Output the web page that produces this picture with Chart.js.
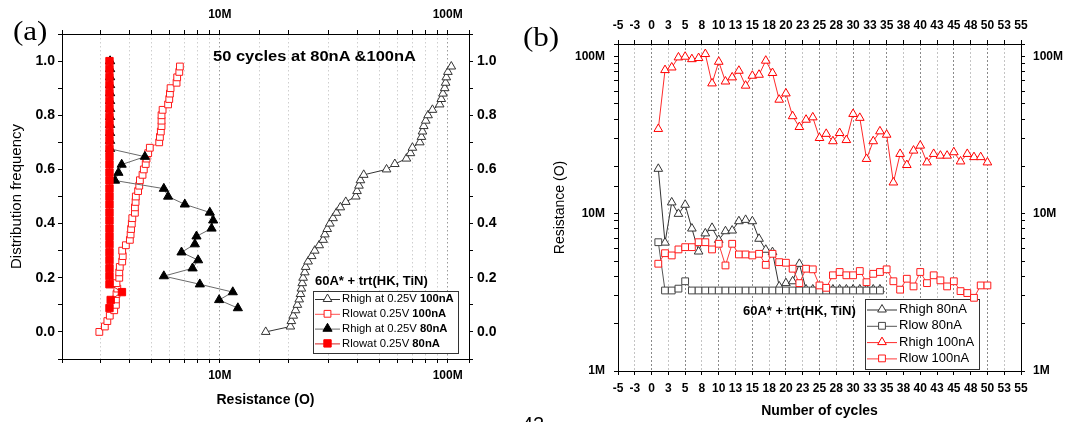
<!DOCTYPE html>
<html>
<head>
<meta charset="utf-8">
<script src="https://cdn.jsdelivr.net/npm/chart.js@4.4.1/dist/chart.umd.min.js"></script>
<style>
  html, body { margin: 0; padding: 0; background: #fff; width: 1069px; height: 422px; overflow: hidden; }
  #wrap { position: relative; width: 1069px; height: 422px; }
  canvas { position: absolute; top: 0; }
  #chartA { left: 0; }
  #chartB { left: 510px; }
  .t { position: absolute; white-space: nowrap; color: #000; font-family: "Liberation Sans", Arial, sans-serif; transform-origin: 0 50%; z-index: 2; }
</style>
</head>
<body>
<div id="wrap">
  <canvas id="chartA" width="520" height="422"></canvas>
  <canvas id="chartB" width="559" height="422"></canvas>
  <div class="t" style="left:13px;top:18px;font:27px/27px 'Liberation Serif','Times New Roman',serif;transform:scaleX(1.15);">(a)</div>
  <div class="t" style="left:523px;top:24px;font:27px/27px 'Liberation Serif','Times New Roman',serif;transform:scaleX(1.15);">(b)</div>
  <div class="t" style="left:213px;top:48px;font:bold 15px/15px 'Liberation Sans',Arial,sans-serif;transform:scaleX(1.1);">50 cycles at 80nA &amp;100nA</div>
  <div class="t" style="left:315px;top:274px;font:bold 13px/13px 'Liberation Sans',Arial,sans-serif;">60A* + trt(HK, TiN)</div>
  <div class="t" style="left:743px;top:304px;font:bold 13px/13px 'Liberation Sans',Arial,sans-serif;">60A* + trt(HK, TiN)</div>
  <div class="t" style="left:522px;top:414px;font:20px/20px 'Liberation Sans',Arial,sans-serif;">42</div>
</div>
<script>
// ---------- (a) cumulative distribution of resistance (values in MΩ) ----------
const freq100 = [0, 0.02, 0.04, 0.06, 0.08, 0.1, 0.12, 0.14, 0.16, 0.18,
  0.2, 0.22, 0.24, 0.26, 0.28, 0.3, 0.32, 0.34, 0.36, 0.38,
  0.4, 0.42, 0.44, 0.46, 0.48, 0.5, 0.52, 0.54, 0.56, 0.58,
  0.6, 0.62, 0.64, 0.66, 0.68, 0.7, 0.72, 0.74, 0.76, 0.78,
  0.8, 0.82, 0.84, 0.86, 0.88, 0.9, 0.92, 0.94, 0.96, 0.98];
const rHigh100Dist = [15.9, 20.4, 20.6, 21.0, 21.5, 21.9, 22.3, 22.6, 22.8, 23.0,
  23.2, 23.6, 23.8, 24.4, 25.3, 26.1, 27.3, 28.4, 28.9, 29.6,
  30.4, 31.4, 32.5, 33.8, 35.7, 39.5, 40.0, 40.8, 41.4, 42.8,
  53.9, 58.6, 65.9, 68.6, 70.0, 75.4, 76.7, 77.5, 78.5, 80.1,
  82.0, 85.7, 92.2, 93.7, 95.3, 97.0, 97.9, 98.6, 100.2, 103.7];
const rLow100Dist = [2.96, 3.13, 3.21, 3.29, 3.44, 3.50, 3.50, 3.52, 3.55, 3.52,
  3.62, 3.62, 3.64, 3.73, 3.75, 3.73, 3.87, 4.03, 4.06, 4.08,
  4.11, 4.13, 4.24, 4.24, 4.27, 4.28, 4.38, 4.43, 4.46, 4.58,
  4.64, 4.73, 4.77, 4.85, 4.93, 5.42, 5.46, 5.51, 5.55, 5.55,
  5.55, 5.61, 5.93, 6.00, 6.04, 6.08, 6.46, 6.50, 6.64, 6.68];
const freq80 = [0.088, 0.118, 0.147, 0.176, 0.206, 0.235, 0.265, 0.294, 0.324, 0.353,
  0.382, 0.412, 0.441, 0.471, 0.500, 0.529, 0.559, 0.588, 0.618, 0.647,
  0.676, 0.706, 0.735, 0.765, 0.794, 0.824, 0.853, 0.882, 0.912, 0.941,
  0.971, 1.000];
const rHigh80Dist = [12.0, 9.93, 11.4, 8.17, 5.68, 7.59, 8.03, 6.79, 7.77, 7.90,
  9.20, 9.35, 9.04, 7.02, 5.93, 5.68, 3.47, 3.59, 3.71, 4.69,
  3.30, 3.30, 3.30, 3.30, 3.30, 3.30, 3.30, 3.30, 3.30, 3.30,
  3.30, 3.30];
const rLow80Dist = [3.28, 3.32, 3.72, 3.28, 3.28, 3.28, 3.28, 3.28, 3.28, 3.28,
  3.28, 3.28, 3.28, 3.28, 3.28, 3.28, 3.28, 3.28, 3.28, 3.28,
  3.28, 3.28, 3.28, 3.28, 3.28, 3.28, 3.28, 3.28, 3.28, 3.28,
  3.28, 3.28];

// ---------- (b) resistance versus cycle number (values in MΩ) ----------
const cycles100 = [1, 2, 3, 4, 5, 6, 7, 8, 9, 10, 11, 12, 13, 14, 15, 16, 17, 18, 19, 20,
  21, 22, 23, 24, 25, 26, 27, 28, 29, 30, 31, 32, 33, 34, 35, 36, 37, 38, 39, 40,
  41, 42, 43, 44, 45, 46, 47, 48, 49, 50];
const cycles80 = [1, 2, 3, 4, 5, 6, 7, 8, 9, 10, 11, 12, 13, 14, 15, 16, 17, 18, 19, 20,
  21, 22, 23, 24, 25, 26, 27, 28, 29, 30, 31, 32, 33, 34];
const rHigh100Cyc = [34.6, 81.9, 85.1, 98.6, 99.6, 96.1, 97.7, 103.6, 67.4, 92.5,
  69.3, 73.6, 81.1, 65.2, 75.4, 76.5, 94.0, 78.5, 53.1, 58.2,
  41.7, 35.6, 39.6, 41.0, 30.3, 32.2, 28.9, 32.6, 29.4, 43.1,
  40.7, 22.3, 28.9, 33.4, 31.8, 15.8, 24.0, 20.4, 25.2, 27.1,
  21.2, 24.0, 23.4, 23.4, 24.6, 21.5, 24.0, 22.9, 22.9, 21.2];
const rLow100Cyc = [4.81, 5.61, 5.43, 5.93, 6.13, 6.13, 6.59, 6.59, 5.93, 6.44,
  4.69, 6.44, 5.51, 5.51, 5.43, 5.56, 4.73, 5.56, 4.92, 4.88,
  4.47, 3.62, 4.47, 4.43, 3.50, 3.38, 4.06, 4.26, 4.06, 4.06,
  4.32, 3.67, 4.15, 4.26, 4.43, 3.72, 3.29, 3.86, 3.45, 4.26,
  3.62, 4.06, 3.77, 3.45, 3.72, 3.22, 3.13, 2.92, 3.50, 3.50];
const rHigh80Cyc = [19.3, 6.55, 11.8, 9.98, 11.4, 8.05, 5.75, 7.50, 8.13, 6.82,
  7.74, 7.82, 8.96, 9.14, 8.96, 6.93, 5.90, 5.70, 3.45, 3.62,
  3.72, 4.80, 3.30, 3.30, 3.30, 3.30, 3.30, 3.30, 3.30, 3.30,
  3.30, 3.30, 3.30, 3.30];
const rLow80Cyc = [6.59, 3.25, 3.25, 3.34, 3.72, 3.25, 3.25, 3.25, 3.25, 3.25,
  3.25, 3.25, 3.25, 3.25, 3.25, 3.25, 3.25, 3.25, 3.25, 3.25,
  3.25, 3.25, 3.25, 3.25, 3.25, 3.25, 3.25, 3.25, 3.25, 3.25,
  3.25, 3.25, 3.25, 3.25];

// axis tick labels
const resistanceTickLabels = { 1e6: '1M', 1e7: '10M', 1e8: '100M' };
const freqTickLabels = ['0.0', '0.2', '0.4', '0.6', '0.8', '1.0'];

// legend entries (text split into regular / bold runs)
const legendA = [
  [['Rhigh at 0.25V ', false], ['100nA', true]],
  [['Rlowat 0.25V ', false], ['100nA', true]],
  [['Rhigh at 0.25V ', false], ['80nA', true]],
  [['Rlowat 0.25V ', false], ['80nA', true]]
];
const legendB = ['Rhigh 80nA', 'Rlow 80nA', 'Rhigh 100nA', 'Rlow 100nA'];

// ---------------------------------------------------------------------------
const MEGA = 1e6;
const FONT = "'Liberation Sans', Arial, sans-serif";
const toPoints = (xs, ys, xScale, yScale) => xs.map((x, i) => ({ x: x * xScale, y: ys[i] * yScale }));

function logTick(v) {
  for (const k in resistanceTickLabels) {
    if (Math.abs(v - Number(k)) < 1) return resistanceTickLabels[k];
  }
  return '';
}
function freqTick(v) {
  const k = Math.round(v * 10);
  return (k >= 0 && k <= 10 && k % 2 === 0) ? freqTickLabels[k / 2] : '';
}
function cycleTick(v) {
  const s = v < 0 ? -1 : 1;
  return String(s * Math.round(Math.abs(v)));
}
function isDecade(v) {
  const l = Math.log10(v);
  return Math.abs(l - Math.round(l)) < 1e-6;
}

function drawMark(ctx, style, x, y, r, fill, stroke) {
  ctx.beginPath();
  if (style === 'triangle') {
    const s = r * Math.sin(Math.PI / 3);
    ctx.moveTo(x, y - r);
    ctx.lineTo(x + s, y + r / 2);
    ctx.lineTo(x - s, y + r / 2);
    ctx.closePath();
  } else {
    const h = r * Math.SQRT1_2;
    ctx.rect(x - h, y - h, 2 * h, 2 * h);
  }
  ctx.fillStyle = fill;
  ctx.fill();
  ctx.lineWidth = 1;
  ctx.strokeStyle = stroke;
  ctx.stroke();
}

// framed legend drawn inside the plot area, using each dataset's own style
const boxLegend = {
  id: 'boxLegend',
  beforeDatasetsDraw(chart, args, o) {
    if (!o || !o.rows) return;
    const ctx = chart.ctx;
    ctx.save();
    ctx.fillStyle = '#fff';
    ctx.fillRect(o.x, o.y, o.w, o.h);
    ctx.strokeStyle = '#333';
    ctx.lineWidth = 1;
    ctx.strokeRect(o.x + 0.5, o.y + 0.5, o.w, o.h);
    o.rows.forEach((row, i) => {
      const ds = chart.data.datasets[o.order[i]];
      const y = o.y0 + i * o.dy;
      ctx.beginPath();
      ctx.strokeStyle = ds.borderColor;
      ctx.lineWidth = 1;
      ctx.moveTo(o.lx0, y + 0.5);
      ctx.lineTo(o.lx1, y + 0.5);
      ctx.stroke();
      drawMark(ctx, ds.pointStyle, (o.lx0 + o.lx1) / 2, y, ds.pointRadius, ds.pointBackgroundColor, ds.pointBorderColor);
      let x = o.tx;
      ctx.fillStyle = '#000';
      ctx.textBaseline = 'middle';
      ctx.textAlign = 'left';
      row.forEach(([text, bold]) => {
        ctx.font = (bold ? 'bold ' : '') + o.size + 'px ' + FONT;
        ctx.fillText(text, x, y);
        x += ctx.measureText(text).width;
      });
    });
    ctx.restore();
  }
};

const fixW = w => s => { s.width = w; };
const fixH = h => s => { s.height = h; };

const tickFont = (size) => ({ family: FONT, size: size, weight: 'bold' });

// ---------------------- chart (a) ----------------------
const gridA = {
  display: true, drawOnChartArea: true, drawTicks: true, tickLength: 4,
  tickColor: '#000', lineWidth: 1,
  color: c => (c.tick && isDecade(c.tick.value)) ? '#9a9a9a' : '#cfcfcf',
  borderDash: [1.5, 2.5]
};
const borderA = { display: true, color: '#000', width: 1, dash: [1.5, 2.5] };
const axisOnly = { display: true, drawOnChartArea: false, drawTicks: true, tickLength: 4, tickColor: '#000' };

new Chart(document.getElementById('chartA'), {
  type: 'scatter',
  data: {
    datasets: [
      {
        label: 'Rlow 80nA', order: 0,
        data: toPoints(rLow80Dist, freq80, MEGA, 1),
        showLine: true, borderColor: '#d42020', borderWidth: 1,
        pointStyle: 'rect', pointRadius: 5.2, pointBorderWidth: 1,
        pointBackgroundColor: '#ff0000', pointBorderColor: '#ff0000'
      },
      {
        label: 'Rhigh 80nA', order: 1,
        data: toPoints(rHigh80Dist, freq80, MEGA, 1),
        showLine: true, borderColor: '#6a6a6a', borderWidth: 1,
        pointStyle: 'triangle', pointRadius: 5.3, pointBorderWidth: 1,
        pointBackgroundColor: '#000', pointBorderColor: '#000'
      },
      {
        label: 'Rlow 100nA', order: 2,
        data: toPoints(rLow100Dist, freq100, MEGA, 1),
        showLine: true, borderColor: '#ff5050', borderWidth: 1,
        pointStyle: 'rect', pointRadius: 4.8, pointBorderWidth: 1,
        pointBackgroundColor: '#fff', pointBorderColor: '#ff1a1a'
      },
      {
        label: 'Rhigh 100nA', order: 3,
        data: toPoints(rHigh100Dist, freq100, MEGA, 1),
        showLine: true, borderColor: '#333', borderWidth: 1,
        pointStyle: 'triangle', pointRadius: 5, pointBorderWidth: 1,
        pointBackgroundColor: '#fff', pointBorderColor: '#333'
      }
    ]
  },
  options: {
    responsive: false, animation: false, devicePixelRatio: 1, events: [],
    layout: { padding: 0 },
    plugins: {
      legend: { display: false }, tooltip: { enabled: false },
      boxLegend: {
        x: 313, y: 291, w: 145, h: 62, y0: 299, dy: 14.8,
        lx0: 315, lx1: 340, tx: 342, size: 11.3,
        rows: legendA, order: [3, 2, 1, 0]
      }
    },
    scales: {
      x: {
        type: 'logarithmic', position: 'bottom', min: 2.03e6, max: 1.24e8,
        afterFit: fixH(63),
        grid: gridA, border: borderA,
        ticks: { autoSkip: false, maxRotation: 0, padding: 5, color: '#000', font: tickFont(12), callback: logTick },
        title: { display: true, text: 'Resistance (O)', color: '#000',
          font: { family: FONT, size: 14, weight: 'bold' }, padding: { top: 0, bottom: 13.6 } }
      },
      x2: {
        type: 'logarithmic', position: 'top', min: 2.03e6, max: 1.24e8,
        afterFit: fixH(34),
        grid: axisOnly, border: { display: true, color: '#000', width: 1 },
        ticks: { autoSkip: false, maxRotation: 0, padding: 8, color: '#000', font: tickFont(12), callback: logTick }
      },
      y: {
        type: 'linear', position: 'left', min: -0.1, max: 1.1,
        afterFit: fixW(62),
        grid: axisOnly, border: { display: true, color: '#000', width: 1 },
        ticks: { stepSize: 0.1, autoSkip: false, padding: 3, color: '#000', font: tickFont(14), callback: freqTick },
        title: { display: true, text: 'Distribution frequency', color: '#000',
          font: { family: FONT, size: 15, weight: 'normal' }, padding: { top: 8, bottom: 0 } }
      },
      y2: {
        type: 'linear', position: 'right', min: -0.1, max: 1.1,
        afterFit: fixW(51),
        grid: axisOnly, border: { display: true, color: '#000', width: 1 },
        ticks: { stepSize: 0.1, autoSkip: false, padding: 4, color: '#000', font: tickFont(14), callback: freqTick }
      }
    }
  },
  plugins: [boxLegend]
});

// ---------------------- chart (b) ----------------------
const gridB = {
  display: true, drawOnChartArea: true, drawTicks: true, tickLength: 4,
  tickColor: '#000', lineWidth: 1,
  color: c => (c.tick && Math.abs(c.tick.value / 5 - Math.round(c.tick.value / 5)) < 1e-6) ? '#8a8a8a' : '#c4c4c4',
  borderDash: [2, 2]
};
const borderB = { display: true, color: '#000', width: 1, dash: [2, 2] };

new Chart(document.getElementById('chartB'), {
  type: 'scatter',
  data: {
    datasets: [
      {
        label: 'Rhigh 80nA', order: 3,
        data: toPoints(cycles80, rHigh80Cyc, 1, MEGA),
        showLine: true, borderColor: '#333', borderWidth: 1,
        pointStyle: 'triangle', pointRadius: 5, pointBorderWidth: 1,
        pointBackgroundColor: '#fff', pointBorderColor: '#333'
      },
      {
        label: 'Rlow 80nA', order: 2,
        data: toPoints(cycles80, rLow80Cyc, 1, MEGA),
        showLine: true, borderColor: '#555', borderWidth: 1,
        pointStyle: 'rect', pointRadius: 4.8, pointBorderWidth: 1,
        pointBackgroundColor: '#fff', pointBorderColor: '#444'
      },
      {
        label: 'Rhigh 100nA', order: 1,
        data: toPoints(cycles100, rHigh100Cyc, 1, MEGA),
        showLine: true, borderColor: '#ff2a2a', borderWidth: 1,
        pointStyle: 'triangle', pointRadius: 5, pointBorderWidth: 1,
        pointBackgroundColor: '#fff', pointBorderColor: '#ff0000'
      },
      {
        label: 'Rlow 100nA', order: 0,
        data: toPoints(cycles100, rLow100Cyc, 1, MEGA),
        showLine: true, borderColor: '#ff3a3a', borderWidth: 1,
        pointStyle: 'rect', pointRadius: 4.8, pointBorderWidth: 1,
        pointBackgroundColor: '#fff', pointBorderColor: '#ff1a1a'
      }
    ]
  },
  options: {
    responsive: false, animation: false, devicePixelRatio: 1, events: [],
    layout: { padding: 0 },
    plugins: {
      legend: { display: false }, tooltip: { enabled: false },
      boxLegend: {
        x: 355, y: 299, w: 114, h: 70, y0: 309.5, dy: 16.3,
        lx0: 357, lx1: 387, tx: 389, size: 13,
        rows: legendB.map(t => [[t, false]]), order: [0, 1, 2, 3]
      }
    },
    scales: {
      x: {
        type: 'linear', position: 'bottom', min: -5, max: 55,
        afterFit: fixH(51),
        grid: gridB, border: borderB,
        ticks: { stepSize: 2.5, autoSkip: false, maxRotation: 0, padding: 6, color: '#000', font: tickFont(12), callback: cycleTick },
        title: { display: true, text: 'Number of cycles', color: '#000',
          font: { family: FONT, size: 14, weight: 'bold' }, padding: { top: 0, bottom: 2.6 } }
      },
      x2: {
        type: 'linear', position: 'top', min: -5, max: 55,
        afterFit: fixH(44),
        grid: axisOnly, border: { display: true, color: '#000', width: 1 },
        ticks: { stepSize: 2.5, autoSkip: false, maxRotation: 0, padding: 7, color: '#000', font: tickFont(12), callback: cycleTick }
      },
      y: {
        type: 'logarithmic', position: 'left', min: 1e6, max: 1.2e8,
        afterFit: fixW(108),
        grid: axisOnly, border: { display: true, color: '#000', width: 1 },
        ticks: { autoSkip: false, padding: 9, color: '#000', font: tickFont(12), callback: logTick },
        title: { display: true, text: 'Resistance (O)', color: '#000',
          font: { family: FONT, size: 14, weight: 'normal' }, padding: { top: 41.6, bottom: 0 } }
      },
      y2: {
        type: 'logarithmic', position: 'right', min: 1e6, max: 1.2e8,
        afterFit: fixW(48),
        grid: axisOnly, border: { display: true, color: '#000', width: 1 },
        ticks: { autoSkip: false, padding: 8, color: '#000', font: tickFont(12), callback: logTick }
      }
    }
  },
  plugins: [boxLegend]
});
</script>
</body>
</html>
